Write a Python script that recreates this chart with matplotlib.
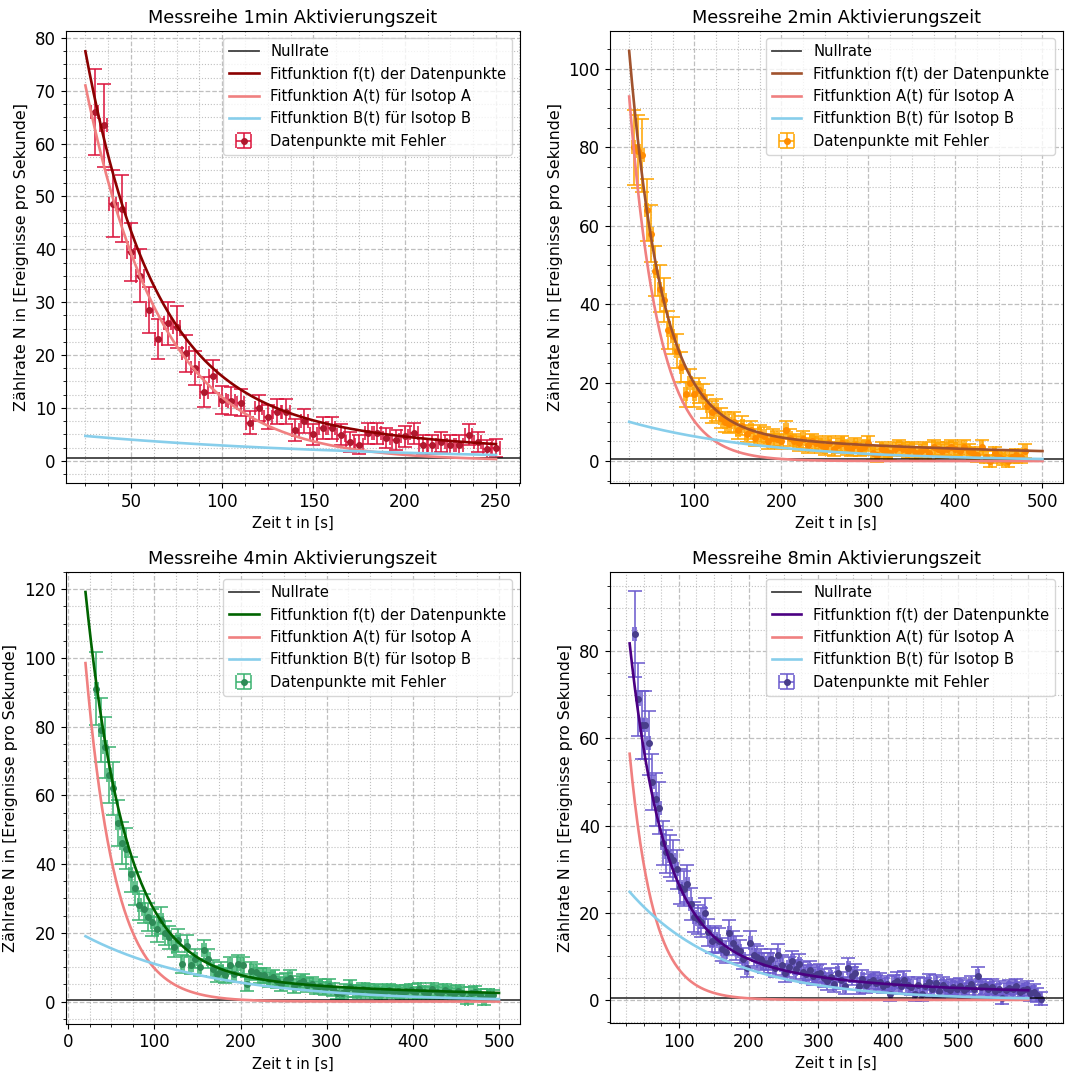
import numpy as np
import matplotlib
matplotlib.use("Agg")
import matplotlib.pyplot as plt
from matplotlib.ticker import AutoMinorLocator
from matplotlib.colors import to_rgba

# ---------------- data ----------------
titles = ["Messreihe 1min Aktivierungszeit", "Messreihe 2min Aktivierungszeit",
          "Messreihe 4min Aktivierungszeit", "Messreihe 8min Aktivierungszeit"]

# measured count rates (events per second), one point every 5 s
t1_start = 30.0
rate1 = [66, 63.5, 48.6, 47.7, 39.5, 35, 28.5, 23, 26, 25.3, 20.3, 17.5, 13, 16, 11.5,
         11.3, 11, 7.2, 10, 8.3, 9.3, 9.3, 5.8, 7.5, 5, 6.2, 6.2, 4.9, 3.6, 3.0,
         5.2, 5.2, 4.3, 4.0, 4.6, 5.2, 3.0, 3.0, 3.6, 3.0, 3.0, 4.9, 3.6, 2.2, 2.4]

t2_start = 30.0
rate2 = [80, 79, 78, 64, 58, 48.5, 44, 41, 33.5, 32, 28, 24, 17, 20, 17, 18, 16.5, 14,
         12.5, 13, 11, 10, 9.5, 10, 8, 9, 7, 8, 6, 7, 6.5, 5, 6, 5.5, 5, 8, 6, 5, 4.5,
         5.5, 4, 5, 4.5, 4, 3.5, 4.5, 3, 4, 4.5, 3.5, 3, 4, 3, 3.5, 4.5, 2, 1.5, 3, 2.5,
         2, 3, 3.5, 3, 2.5, 3, 2, 2.5, 3, 2, 3.5, 3, 2.5, 3, 3.5, 3, 2.5, 3.5, 2.5, 2,
         1.5, 3.5, 1, 0, 2, 1, 0.5, 0, 1, 1.5, 1, 2.5]

t3_start = 32.5
rate3 = [91, 79, 74, 66, 62, 52, 46, 44.5, 37, 33, 28, 27, 24.6, 23, 21, 23.6, 20, 18.7,
         16, 17.8, 11, 16.3, 10.5, 12.5, 10, 14.9, 12.5, 9.5, 8.1, 9, 7.6, 10.5, 8, 11,
         10.5, 5.2, 9, 8.6, 7.6, 7.6, 6.5, 7, 6, 5.1, 6.2, 6.9, 4.5, 5.5, 6, 4.8, 5.2,
         4, 4.6, 3.8, 4.5, 3.5, 2.4, 2.6, 3.2, 4.2, 3, 2.9, 3.5, 3.3, 2.8, 3.2, 2.6, 3,
         3.4, 2.8, 3.1, 2.5, 3, 3.3, 2.6, 3.5, 2.8, 2.4, 3.6, 2.9, 2.5, 3.3, 2.7, 2.2,
         3, 2.6, 0.8, 2.4, 2.8, 2, 0.6, 2, 1.8]

t4_start = 37.5
rate4 = [84, 69, 63, 63, 59, 50, 46, 44, 36, 34, 33, 32, 30, 26, 25.5, 26.7, 22, 19,
         18.5, 17.8, 20, 15.5, 13.6, 14, 13.6, 11.6, 11, 15.4, 13.1, 11.9, 11.2, 9.5,
         7.4, 13.1, 10.4, 9.8, 9.3, 8.5, 8.5, 9.3, 7.4, 10.4, 8, 6.2, 7.5, 8.9, 7, 8.2,
         6.5, 5.9, 6.8, 5.5, 6, 6.2, 5, 4.3, 5.2, 3.6, 6.2, 4.5, 3.2, 7.4, 5.5, 6.2,
         3.2, 4.8, 3.5, 4, 4.5, 3.8, 4.2, 3.3, 3.6, 1.3, 3.9, 4.4, 3.2, 4.6, 3.4, 3,
         1.3, 3.5, 1.3, 3.2, 4.1, 2.5, 3.8, 2.1, 3.4, 2.8, 2.3, 3, 2.6, 3.3, 2.2, 2.8,
         3.6, 2.5, 5.5, 2.9, 3.1, 2.4, 2.9, 2, 2.6, 0.5, 2.2, 2.8, 2.4, 3.1, 1.8, 2.2,
         2.6, 1.5, 1.9, 1.1, 0.3]

step = 5.0
time_err = 2.0          # uncertainty of the time stamps [s]
rel_err, abs_err = 0.10, 1.5   # rate uncertainty model

null_rate = 0.45

# fit parameters: f(t) = a1*exp(-l1 t) + a2*exp(-l2 t) + c ; A(t) = A0*exp(-lA t) ; B(t) = B0*exp(-lB t)
fit_f = [(129.3, 0.0270, 13.2, 0.0065, 0.4),
         (187.7, 0.0265, 7.86, 0.0027, 0.5),
         (170.0, 0.0218, 9.31, 0.00308, 0.5),
         (123.2, 0.0214, 18.2, 0.0054, 1.5)]
fit_A = [(128.4, 0.0237), (194.4, 0.0295), (175.9, 0.0290), (137.3, 0.0296)]
fit_B = [(5.52, 0.00645), (11.68, 0.0062), (21.8, 0.00688), (30.96, 0.0074)]
t_fit_range = [(25, 250), (25, 500), (20, 500), (30, 600)]

starts = [t1_start, t2_start, t3_start, t4_start]
rates = [rate1, rate2, rate3, rate4]

f_colors = ["darkred", "sienna", "darkgreen", "indigo"]
pt_colors = ["#b0182e", "darkorange", "seagreen", "darkslateblue"]
err_colors = ["crimson", "orange", "mediumseagreen", "slateblue"]

xlims = [(14.1, 263), (2.4, 523), (-3.2, 524), (1.2, 648.9)]
ylims = [(-4.2, 81.3), (-5.6, 109.7), (-6.4, 125.0), (-5.3, 98.2)]

# ---------------- figure ----------------
W, H = 1066, 1075
fig = plt.figure(figsize=(W / 100, H / 100), dpi=100)

boxes = [(65.5, 31, 519.7, 483), (609.5, 31, 1062.5, 483),
         (65.5, 572, 519.7, 1023.5), (609.5, 572, 1062.5, 1023)]

for i in range(4):
    l, t, r, b = boxes[i]
    ax = fig.add_axes([l / W, 1 - b / H, (r - l) / W, (b - t) / H])

    y = np.array(rates[i], dtype=float)
    x = starts[i] + step * np.arange(len(y))
    yerr = rel_err * y + abs_err

    ax.axhline(null_rate, color="black", lw=1.3, alpha=0.75, label="Nullrate", zorder=3)

    ax.errorbar(x, y, yerr=yerr, xerr=time_err, fmt="o", ms=4,
                color=pt_colors[i], ecolor=to_rgba(err_colors[i], 0.8),
                elinewidth=1.4, capsize=5, capthick=1.4,
                label="Datenpunkte mit Fehler", zorder=2)

    tt = np.linspace(t_fit_range[i][0], t_fit_range[i][1], 600)
    a1, l1, a2, l2, c = fit_f[i]
    ax.plot(tt, a1 * np.exp(-l1 * tt) + a2 * np.exp(-l2 * tt) + c,
            color=f_colors[i], lw=1.9, label="Fitfunktion f(t) der Datenpunkte", zorder=4)
    A0, lA = fit_A[i]
    ax.plot(tt, A0 * np.exp(-lA * tt), color="lightcoral", lw=1.9,
            label="Fitfunktion A(t) für Isotop A", zorder=4)
    B0, lB = fit_B[i]
    ax.plot(tt, B0 * np.exp(-lB * tt), color="skyblue", lw=1.9,
            label="Fitfunktion B(t) für Isotop B", zorder=4)

    ax.set_xlim(*xlims[i])
    ax.set_ylim(*ylims[i])
    ax.xaxis.set_minor_locator(AutoMinorLocator(4))
    ax.yaxis.set_minor_locator(AutoMinorLocator(4))
    ax.grid(which="major", linestyle="--", color="#b0b0b0", lw=0.9, alpha=0.8)
    ax.grid(which="minor", linestyle=":", color="#b0b0b0", lw=0.8, alpha=0.8)
    ax.tick_params(axis="both", which="major", labelsize=12)

    ax.set_title(titles[i], fontsize=12.8)
    ax.set_xlabel("Zeit t in [s]", fontsize=10.6)
    ax.set_ylabel("Zählrate N in [Ereignisse pro Sekunde]", fontsize=11.4)
    ax.legend(loc="upper right", fontsize=10.6)

fig.savefig("out.png", dpi=100)
